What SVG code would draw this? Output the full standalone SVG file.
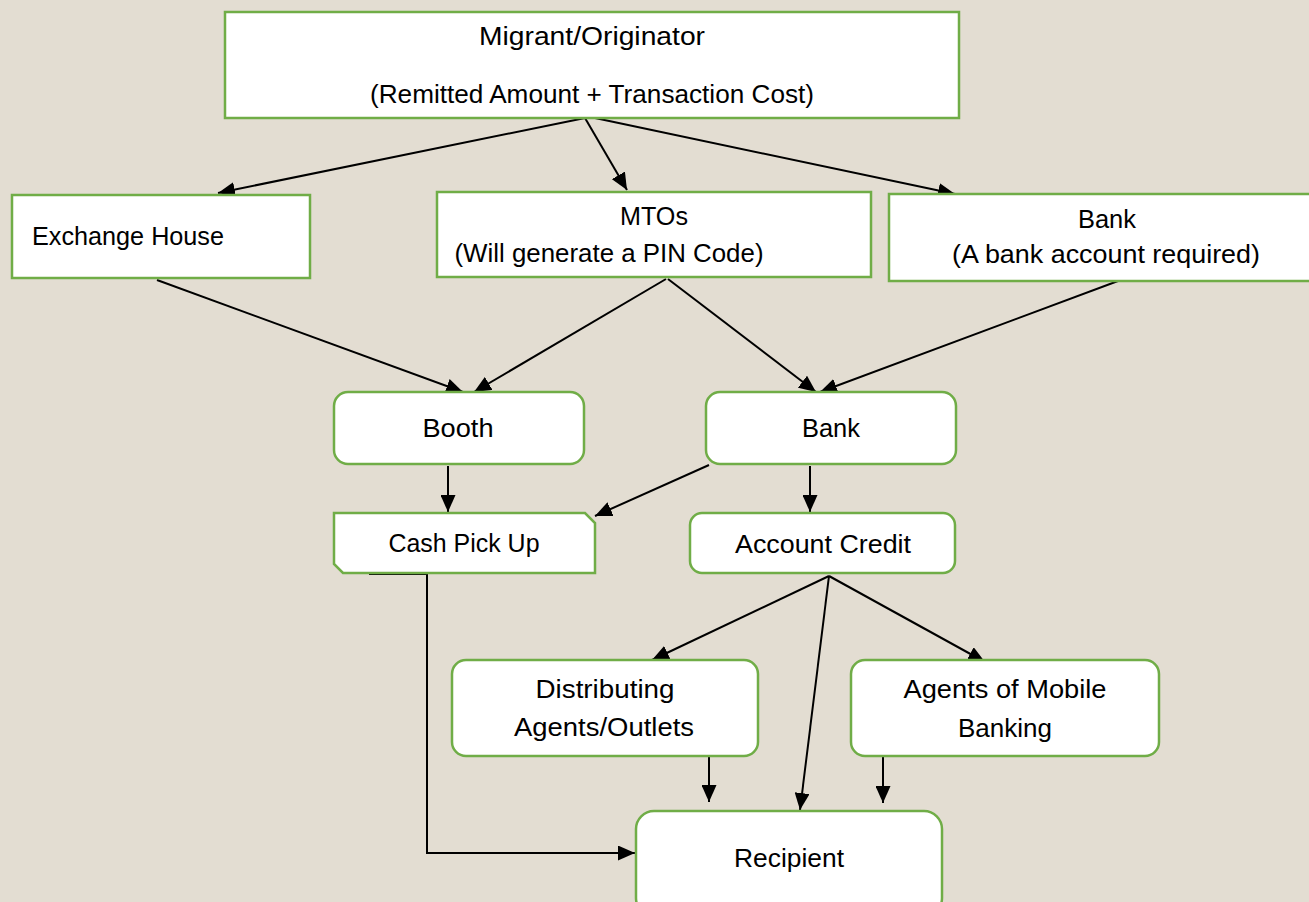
<svg xmlns="http://www.w3.org/2000/svg" width="1309" height="902" viewBox="0 0 1309 902">
<defs>
<style>
.box{fill:#ffffff;stroke:#70AD47;stroke-width:2.5}
.t{font-family:"Liberation Sans",Arial,sans-serif;font-size:25px;fill:#000;text-anchor:middle}
.tl{font-family:"Liberation Sans",Arial,sans-serif;font-size:25px;fill:#000;text-anchor:start}
.a{stroke:#000;stroke-width:2;fill:none;marker-end:url(#arr)}
</style>
<marker id="arr" viewBox="0 0 17 15" markerUnits="userSpaceOnUse" markerWidth="17" markerHeight="15" refX="17" refY="7.5" orient="auto">
<path d="M0,0 L17,7.5 L0,15 z" fill="#000"/>
</marker>
</defs>
<rect x="0" y="0" width="1309" height="902" fill="#E3DDD2"/>

<g id="connectors">
<line class="a" x1="585" y1="118" x2="218" y2="193"/>
<line class="a" x1="585" y1="118" x2="627" y2="190"/>
<line class="a" x1="595" y1="118" x2="955" y2="194"/>
<line class="a" x1="157" y1="280" x2="463" y2="392"/>
<line class="a" x1="666" y1="279" x2="474" y2="392"/>
<line class="a" x1="668" y1="279" x2="816" y2="392"/>
<line class="a" x1="1118" y1="281" x2="820" y2="392"/>
<line class="a" x1="448" y1="466" x2="448" y2="512"/>
<line class="a" x1="709" y1="465" x2="595" y2="516"/>
<line class="a" x1="810" y1="466" x2="810" y2="512"/>
<line class="a" x1="829" y1="576" x2="652" y2="660"/>
<line class="a" x1="829" y1="576" x2="985" y2="662"/>
<line class="a" x1="829" y1="576" x2="800" y2="810"/>
<line class="a" x1="709" y1="757" x2="709" y2="802"/>
<line class="a" x1="883" y1="757" x2="883" y2="803"/>
<polyline class="a" points="369,574 427,574 427,853 635,853"/>
</g>

<g id="migrant">
<rect class="box" x="225" y="12" width="734" height="106"/>
<text class="t" x="592" y="45" textLength="226" lengthAdjust="spacingAndGlyphs">Migrant/Originator</text>
<text class="t" x="592" y="103" textLength="444" lengthAdjust="spacingAndGlyphs">(Remitted Amount + Transaction Cost)</text>
</g>

<g id="exchange-house">
<rect class="box" x="12" y="195" width="298" height="83"/>
<text class="tl" x="32" y="245" textLength="192" lengthAdjust="spacingAndGlyphs">Exchange House</text>
</g>

<g id="mtos">
<rect class="box" x="437" y="192" width="434" height="85"/>
<text class="t" x="654" y="225" textLength="68" lengthAdjust="spacingAndGlyphs">MTOs</text>
<text class="t" x="609" y="262" textLength="309" lengthAdjust="spacingAndGlyphs">(Will generate a PIN Code)</text>
</g>

<g id="bank-top">
<rect class="box" x="889" y="194" width="430" height="87"/>
<text class="t" x="1107" y="228" textLength="58" lengthAdjust="spacingAndGlyphs">Bank</text>
<text class="t" x="1106" y="263" textLength="308" lengthAdjust="spacingAndGlyphs">(A bank account required)</text>
</g>

<g id="booth">
<rect class="box" x="334" y="392" width="250" height="72" rx="14" ry="14"/>
<text class="t" x="458" y="437" textLength="71" lengthAdjust="spacingAndGlyphs">Booth</text>
</g>

<g id="bank-mid">
<rect class="box" x="706" y="392" width="250" height="72" rx="14" ry="14"/>
<text class="t" x="831" y="437" textLength="58" lengthAdjust="spacingAndGlyphs">Bank</text>
</g>

<g id="cash-pick-up">
<path class="box" d="M334,513 H585 L595,523 V573 H343 L334,564 Z"/>
<text class="t" x="464" y="552" textLength="151" lengthAdjust="spacingAndGlyphs">Cash Pick Up</text>
</g>

<g id="account-credit">
<rect class="box" x="690" y="513" width="265" height="60" rx="12" ry="12"/>
<text class="t" x="823" y="553" textLength="176" lengthAdjust="spacingAndGlyphs">Account Credit</text>
</g>

<g id="distributing">
<rect class="box" x="452" y="660" width="306" height="96" rx="14" ry="14"/>
<text class="t" x="605" y="698" textLength="139" lengthAdjust="spacingAndGlyphs">Distributing</text>
<text class="t" x="604" y="736" textLength="180" lengthAdjust="spacingAndGlyphs">Agents/Outlets</text>
</g>

<g id="mobile-banking">
<rect class="box" x="851" y="660" width="308" height="96" rx="14" ry="14"/>
<text class="t" x="1005" y="698" textLength="203" lengthAdjust="spacingAndGlyphs">Agents of Mobile</text>
<text class="t" x="1005" y="737" textLength="94" lengthAdjust="spacingAndGlyphs">Banking</text>
</g>

<g id="recipient">
<rect class="box" x="636" y="811" width="306" height="105" rx="18" ry="18"/>
<text class="t" x="789" y="867" textLength="110" lengthAdjust="spacingAndGlyphs">Recipient</text>
</g>
</svg>
